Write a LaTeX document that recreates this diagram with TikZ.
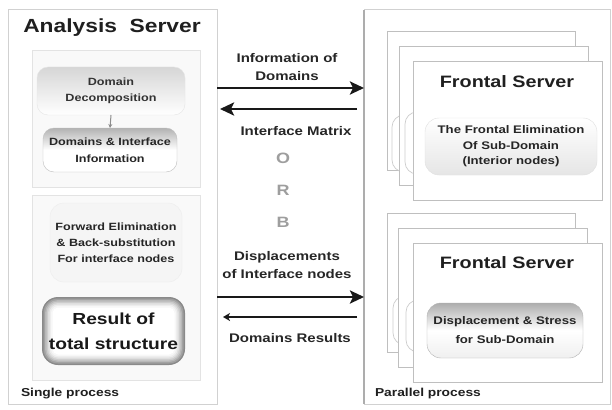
\documentclass[tikz,border=0pt]{standalone}
\usepackage{fontspec}
\setmainfont{Liberation Sans}[FakeStretch=1.2]
\usetikzlibrary{arrows.meta}
\pgfdeclarelayer{back}
\pgfdeclarelayer{glow}
\pgfsetlayers{back,glow,main}

\begin{document}
\begin{tikzpicture}[x=1pt,y=-1pt,
  every node/.style={inner sep=0pt, outer sep=0pt},
  txt/.style={text=black!88},
  fs/.style 2 args={font=\bfseries\fontsize{#1}{#2}\selectfont},
  panel/.style={draw=black!18, line width=1pt, fill=white},
  pane/.style={draw=black!11, fill=black!2.5, line width=0.8pt},
  page/.style={draw=black!25, fill=white, line width=0.8pt},
  ghost/.style={draw=black!20, line width=0.7pt, rounded corners=12pt},
  rbox/.style={rounded corners=11pt, align=center, text=black!85},
  bigarrow/.style={line width=2.6pt, black!90,
    -{Stealth[length=14pt,width=13pt,inset=3pt]}},
  smallarrow/.style={line width=2.4pt, black!90,
    -{Stealth[length=7pt,width=8pt,inset=2pt]}},
  lbl/.style={align=center, text=black!85, fs={12.5}{18}},
  orb/.style={text=black!38, fs={15}{15}}
]
\useasboundingbox (0,0) rectangle (612,409);

% ---------- frames and stacked pages ----------
\begin{pgfonlayer}{back}
  % single-process side
  \node[panel, minimum width=209, minimum height=394] (lp) at (112.5,207) {};
  \node[pane, minimum width=168, minimum height=137] (lb1) at (116,118.5) {};
  \node[pane, minimum width=168, minimum height=185] (lb2) at (116,287.5) {};
  % parallel-process side
  \node[panel, minimum width=246, minimum height=394] (rp) at (487,207) {};
  \draw[black!32, line width=1.6pt] (rp.north west) -- (rp.south west);

  % upper stack of frontal servers
  \node[page, minimum width=188, minimum height=139] (p1a) at (481,100.5) {};
  \draw[ghost] (392,115) rectangle (470,172);
  \node[page, minimum width=189, minimum height=139] (p1b) at (493.5,115.5) {};
  \draw[ghost] (405,112) rectangle (480,174);
  \node[page, minimum width=189, minimum height=139] (p1c) at (507.5,130.5) {};

  % lower stack of frontal servers
  \node[page, minimum width=188, minimum height=139] (p2a) at (481,282.5) {};
  \draw[ghost] (393,296) rectangle (470,345);
  \node[page, minimum width=189, minimum height=139] (p2b) at (492.5,297.5) {};
  \draw[ghost] (406,300) rectangle (480,352);
  \node[page, minimum width=189, minimum height=139] (p2c) at (507.5,312.5) {};
\end{pgfonlayer}

% ---------- soft ring behind the result box ----------
\begin{pgfonlayer}{glow}
  \foreach \i/\c [evaluate=\i as \r using 16-\i] in
      {0/46,1.5/37,3/28,4.5/20,6/13,7.5/7,9/3,10.5/0}
    \fill[black!\c, rounded corners=\r pt]
      (42+\i,297+\i) rectangle (185-\i,365-\i);
\end{pgfonlayer}

% ---------- titles ----------
\node[txt, fs={19}{22}] (ttl) at (112,28) {Analysis\ \ Server};
\node[txt, fs={16.5}{20}] (fs1) at (507,82) {Frontal Server};
\node[txt, fs={16.5}{20}] (fs2) at (507,263) {Frontal Server};

% ---------- analysis server boxes ----------
\node[rbox, minimum width=148, minimum height=48, draw=black!10,
      top color=black!16, bottom color=white, fs={10.5}{16}, text=black!80]
  (dd) at (111,91) {Domain\\Decomposition};
\node[rbox, minimum width=134, minimum height=44, draw=black!25,
      top color=black!30, bottom color=white, middle color=white, fs={10.5}{17}]
  (di) at (110,150) {Domains \& Interface\\Information};
\draw[black!45, line width=1pt, -{Stealth[length=4pt,width=4pt]}] (dd.south) -- (di.north);

\node[rbox, rounded corners=14pt, minimum width=132, minimum height=79,
      fill=black!4, draw=black!7, fs={10.5}{16}]
  (fe) at (116,242.5) {Forward Elimination\\\& Back-substitution\\For interface nodes};
\node[rbox, minimum width=143, minimum height=68, fs={16}{25}, text=black!90]
  (rs) at (113.5,331) {Result of\\total structure};

% ---------- frontal server boxes ----------
\node[rbox, rounded corners=14pt, minimum width=172, minimum height=57,
      draw=black!12, top color=white, bottom color=black!10, fs={11}{15.5}]
  (fe1) at (511,146.5) {The Frontal Elimination\\Of Sub-Domain\\(Interior nodes)};
\node[rbox, rounded corners=14pt, minimum width=156, minimum height=55,
      draw=black!30, top color=black!32, bottom color=black!6, middle color=white, fs={11}{19}]
  (ds) at (505,330.5) {Displacement \& Stress\\for Sub-Domain};

% ---------- process captions ----------
\node[txt, fs={11.5}{14}, anchor=west] (sp) at (21,394) {Single process};
\node[txt, fs={11.5}{14}, anchor=west] (pp) at (375,394) {Parallel process};

% ---------- ORB messages ----------
\coordinate (y1) at (0,88);
\coordinate (y3) at (0,297);
\coordinate (b2s) at (357,109);
\coordinate (b2e) at (220,109);
\coordinate (b4s) at (357,317);
\coordinate (b4e) at (223,317);

\draw[bigarrow] (lp.east |- y1) -- (rp.west |- y1);
\draw[bigarrow] (b2s) -- (b2e);
\draw[bigarrow] (lp.east |- y3) -- (rp.west |- y3);
\draw[smallarrow] (b4s) -- (b4e);

\node[lbl] (l1) at (287,67) {Information of\\Domains};
\node[lbl] (l2) at (296,131) {Interface Matrix};
\node[lbl] (l3) at (287,265) {Displacements\\of Interface nodes};
\node[lbl] (l4) at (290,338) {Domains Results};

\node[orb] (o) at (283,158) {O};
\node[orb] (r) at (283,190) {R};
\node[orb] (b) at (283,222) {B};
\end{tikzpicture}
\end{document}
